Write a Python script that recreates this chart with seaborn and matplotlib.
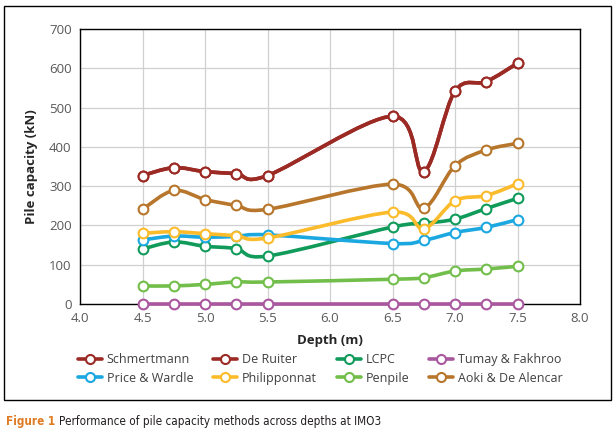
import numpy as np
import pandas as pd
import matplotlib
matplotlib.use("Agg")
import matplotlib.pyplot as plt
import seaborn as sns
from matplotlib.path import Path
from matplotlib.patches import PathPatch, Rectangle
from matplotlib.lines import Line2D

# === Data ===
depth = [4.5, 4.75, 5.0, 5.25, 5.5, 6.5, 6.75, 7.0, 7.25, 7.5]

schmertmann = [327, 347, 337, 332, 327, 478, 337, 542, 566, 613]
de_ruiter = [327, 347, 337, 332, 327, 478, 337, 542, 566, 613]
lcpc = [140, 158, 147, 141, 122, 196, 205, 216, 243, 269]
tumay_fakhroo = [0, 0, 0, 0, 0, 0, 0, 0, 0, 0]
price_wardle = [163, 173, 170, 172, 176, 154, 162, 182, 195, 215]
philipponnat = [180, 184, 179, 174, 168, 234, 192, 263, 276, 306]
penpile = [46, 46, 50, 56, 56, 63, 67, 84, 89, 96]
aoki = [241, 289, 266, 251, 241, 305, 244, 352, 392, 409]

methods = ["Schmertmann", "De Ruiter", "LCPC", "Tumay & Fakhroo",
           "Price & Wardle", "Philipponnat", "Penpile", "Aoki & De Alencar"]
values = [schmertmann, de_ruiter, lcpc, tumay_fakhroo,
          price_wardle, philipponnat, penpile, aoki]
colors = ["#9C2A24", "#9C2A24", "#119B5B", "#A9579E",
          "#1BA8E0", "#FBBB2B", "#72BE4B", "#B7762B"]

df = pd.DataFrame({
    "depth": depth * len(methods),
    "capacity": sum(values, []),
    "method": np.repeat(methods, len(depth)),
})

# === Style ===
sns.set_style("white")
plt.rcParams["font.family"] = ["Open Sans", "DejaVu Sans"]

fig = plt.figure(figsize=(6.16, 4.38), dpi=100)
ax = fig.add_axes([80 / 616, 1 - 304 / 438, 500 / 616, 275 / 438])


def smooth_path(xs, ys):
    # Excel-like smoothed line: cubic bezier through the points
    pts = np.column_stack([xs, ys]).astype(float)
    verts = [pts[0]]
    codes = [Path.MOVETO]
    n = len(pts)
    for i in range(n - 1):
        p0 = pts[i - 1] if i > 0 else pts[i]
        p1 = pts[i]
        p2 = pts[i + 1]
        p3 = pts[i + 2] if i + 2 < n else pts[i + 1]
        verts += [p1 + (p2 - p0) / 6, p2 - (p3 - p1) / 6, p2]
        codes += [Path.CURVE4] * 3
    return Path(verts, codes)


for k, (m, c) in enumerate(zip(methods, colors)):
    sub = df[df["method"] == m]
    patch = PathPatch(smooth_path(sub["depth"], sub["capacity"]), facecolor="none",
                      edgecolor=c, lw=2.6, capstyle="round", zorder=3 + k * 0.1,
                      clip_on=False)
    ax.add_patch(patch)
    sns.lineplot(data=sub, x="depth", y="capacity", ax=ax, color=c, marker="o",
                 markersize=7, markerfacecolor="white", markeredgecolor=c,
                 markeredgewidth=1.5, linestyle="none", estimator=None,
                 zorder=3.05 + k * 0.1, clip_on=False, legend=False)

ax.set_xlim(4.0, 8.0)
ax.set_ylim(0, 700)
ax.set_xticks(np.arange(4.0, 8.01, 0.5))
ax.set_xticklabels([f"{v:.1f}" for v in np.arange(4.0, 8.01, 0.5)])
ax.set_yticks(range(0, 701, 100))
ax.grid(True, color="#D0D0D0", lw=0.9)
ax.set_axisbelow(True)
for s in ax.spines.values():
    s.set_color("black")
    s.set_linewidth(1.0)
ax.tick_params(axis="both", direction="out", length=4, width=1, color="black",
               labelcolor="#595959", labelsize=9.5, pad=2)
ax.set_xlabel("Depth (m)", fontsize=9.5, fontweight="bold", labelpad=6)
ax.set_ylabel("Pile capacity (kN)", fontsize=9.5, fontweight="bold", labelpad=8)

# legend: 4 columns, row-major like the original
handles = [Line2D([], [], color=c, lw=2.6, marker="o", markersize=6.5,
                  markerfacecolor="white", markeredgecolor=c, markeredgewidth=1.5)
           for c in colors]
order = [0, 4, 1, 5, 2, 6, 3, 7]
fig.legend([handles[i] for i in order], [methods[i] for i in order],
           ncol=4, loc="center", bbox_to_anchor=(0.52, 1 - 369 / 438),
           frameon=False, fontsize=9, handlelength=1.9, handletextpad=0.4,
           columnspacing=1.6, labelspacing=0.42, labelcolor="#404040")

# outer chart border
fig.patches.append(Rectangle((4 / 616, 1 - 400 / 438), 607 / 616, 394 / 438,
                             transform=fig.transFigure, fill=False,
                             edgecolor="black", lw=1.0))

# caption
cap_font = dict(family=["DejaVu Sans"], fontstretch="condensed", fontsize=8.4,
                va="center")
t1 = fig.text(6 / 616, 1 - 421 / 438, "Figure 1", color="#E07B24",
              fontweight="bold", **cap_font)
fig.canvas.draw()
bb = t1.get_window_extent()
fig.text((bb.x1 + 4) / 616, 1 - 421 / 438,
         "Performance of pile capacity methods across depths at IMO3",
         color="#231F20", **cap_font)

fig.savefig("out.png", dpi=100)
